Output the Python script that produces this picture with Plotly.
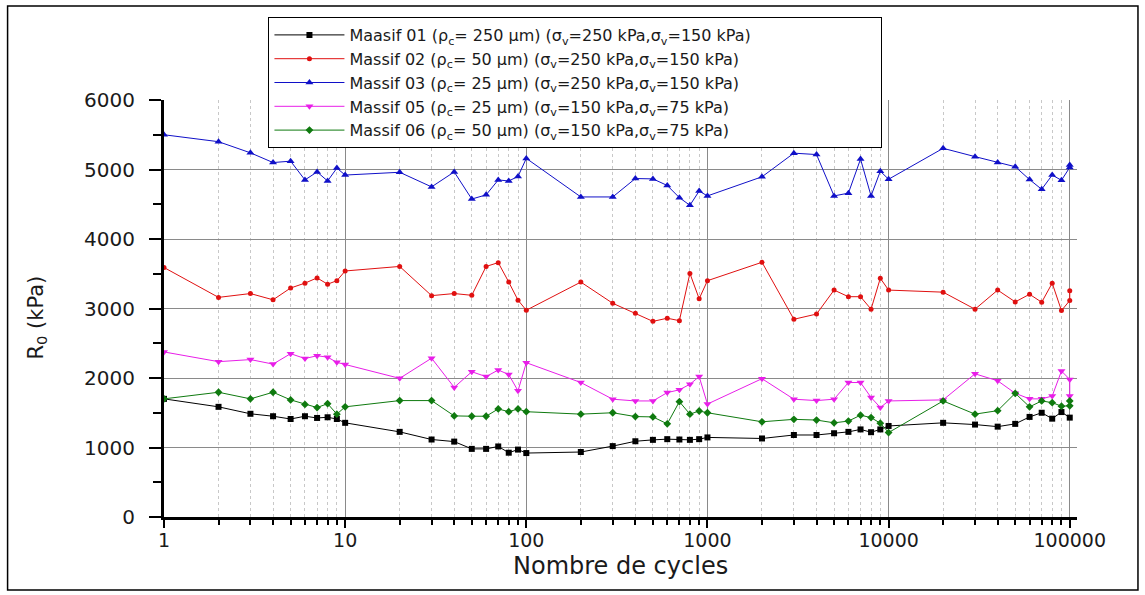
import plotly.graph_objects as go

# ---------------- data ----------------
cycles = [1, 2, 3, 4, 5, 6, 7, 8, 9,
          10, 20, 30, 40, 50, 60, 70, 80, 90,
          100, 200, 300, 400, 500, 600, 700, 800, 900,
          1000, 2000, 3000, 4000, 5000, 6000, 7000, 8000, 9000,
          10000, 20000, 30000, 40000, 50000, 60000, 70000, 80000, 90000,
          100000]
cycles_dup = cycles + [100000]

massif01 = [1700, 1585, 1485, 1450, 1410, 1450, 1425, 1435, 1410,
            1355, 1225, 1115, 1085, 980, 980, 1015, 925, 970,
            920, 935, 1020, 1090, 1110, 1120, 1115, 1110, 1120,
            1145, 1130, 1180, 1180, 1205, 1225, 1260, 1220, 1260,
            1310, 1355, 1330, 1300, 1340, 1440, 1500, 1415, 1510,
            1430]

massif02 = [3590, 3160, 3215, 3125, 3295, 3365, 3440, 3350, 3400,
            3540, 3605, 3185, 3215, 3190, 3605, 3660, 3380, 3120,
            2975, 3380, 3075, 2930, 2815, 2860, 2825, 3505, 3140,
            3400, 3665, 2845, 2920, 3265, 3170, 3170, 2990, 3435,
            3265, 3235, 2990, 3265, 3095, 3205, 3090, 3365, 2970,
            3115, 3255]

massif03 = [5500, 5400, 5240, 5100, 5120, 4850, 4965, 4835, 5020,
            4920, 4960, 4750, 4965, 4575, 4635, 4850, 4835, 4900,
            5160, 4605, 4605, 4870, 4865, 4770, 4595, 4485, 4690,
            4620, 4895, 5235, 5215, 4620, 4660, 5150, 4620, 4975,
            4860, 5305, 5185, 5100, 5040, 4855, 4715, 4920, 4845,
            5030, 5065]

massif05 = [2375, 2235, 2265, 2200, 2350, 2280, 2320, 2300, 2225,
            2195, 1995, 2285, 1865, 2090, 2020, 2115, 2050, 1815,
            2220, 1935, 1695, 1670, 1670, 1790, 1830, 1910, 2020,
            1625, 1990, 1695, 1675, 1695, 1935, 1935, 1720, 1575,
            1670, 1685, 2060, 1960, 1780, 1700, 1700, 1740, 2100,
            1980, 1740]

massif06 = [1700, 1795, 1700, 1795, 1685, 1620, 1575, 1630, 1480,
            1585, 1675, 1675, 1455, 1450, 1450, 1555, 1515, 1555,
            1515, 1480, 1500, 1445, 1440, 1340, 1660, 1480, 1525,
            1500, 1370, 1405, 1395, 1355, 1380, 1465, 1430, 1350,
            1215, 1670, 1480, 1530, 1780, 1585, 1670, 1645, 1595,
            1600, 1670]

names = [
    "Maasif 01 (ρ<sub>c</sub>= 250 µm) (σ<sub>v</sub>=250 kPa,σ<sub>v</sub>=150 kPa)",
    "Massif 02 (ρ<sub>c</sub>= 50 µm) (σ<sub>v</sub>=250 kPa,σ<sub>v</sub>=150 kPa)",
    "Massif 03 (ρ<sub>c</sub>= 25 µm) (σ<sub>v</sub>=250 kPa,σ<sub>v</sub>=150 kPa)",
    "Massif 05 (ρ<sub>c</sub>= 25 µm) (σ<sub>v</sub>=150 kPa,σ<sub>v</sub>=75 kPa)",
    "Massif 06 (ρ<sub>c</sub>= 50 µm) (σ<sub>v</sub>=150 kPa,σ<sub>v</sub>=75 kPa)",
]

y_ticks = [0, 1000, 2000, 3000, 4000, 5000, 6000]
x_ticks = [1, 10, 100, 1000, 10000, 100000]
x_ticklabels = ["1", "10", "100", "1000", "10000", "100000"]

# ---------------- figure ----------------
FONT = "DejaVu Sans"
series = [
    (cycles, massif01, names[0], "#000000", "square", 6),
    (cycles_dup, massif02, names[1], "#e01010", "circle", 5),
    (cycles_dup, massif03, names[2], "#1010c8", "triangle-up", 7),
    (cycles_dup, massif05, names[3], "#e81ee8", "triangle-down", 7),
    (cycles_dup, massif06, names[4], "#0f7a0f", "diamond", 6),
]

fig = go.Figure()
for xs, ys, nm, col, sym, sz in series:
    fig.add_trace(go.Scatter(
        x=xs, y=ys, name=nm, mode="lines+markers",
        line=dict(color=col, width=1),
        marker=dict(color=col, symbol=sym, size=sz, line=dict(width=0)),
    ))

L, R, T, B = 163.5, 1077.0, 100.0, 517.0
W, H = 1145, 595
pw, ph = R - L, B - T


def px_x(p):
    return (p - L) / pw


def px_y(p):
    return (B - p) / ph


fig.update_layout(
    width=W, height=H,
    margin=dict(l=L, r=W - R, t=T, b=H - B, pad=0, autoexpand=False),
    paper_bgcolor="white", plot_bgcolor="white",
    font=dict(family=FONT, color="#1a1a1a"),
    showlegend=True,
    legend=dict(
        x=px_x(268), y=px_y(17), xanchor="left", yanchor="top",
        orientation="h", entrywidth=527, entrywidthmode="pixels",
        bgcolor="white", bordercolor="black", borderwidth=1,
        font=dict(family=FONT, size=16, color="#1a1a1a"),
        tracegroupgap=0, itemwidth=70,
    ),
    xaxis=dict(
        type="log", range=[0, 5.04],
        tickvals=x_ticks, ticktext=x_ticklabels,
        ticks="outside", ticklen=8, tickwidth=2, tickcolor="black",
        showline=True, linecolor="black", linewidth=3,
        showgrid=True, gridcolor="#8a8a8a", gridwidth=1,
        tickfont=dict(family=FONT, size=19, color="#1a1a1a"),
        ticklabelstandoff=-4,
        zeroline=False,
        minor=dict(ticks="outside", ticklen=5, tickwidth=2, tickcolor="black",
                   dtick="D1", showgrid=True, gridcolor="#c8c8c8",
                   griddash="dot", gridwidth=1),
    ),
    yaxis=dict(
        range=[0, 6000], tickvals=y_ticks,
        ticks="outside", ticklen=12, tickwidth=2, tickcolor="black",
        showline=True, linecolor="black", linewidth=3,
        showgrid=True, gridcolor="#8a8a8a", gridwidth=1,
        tickfont=dict(family=FONT, size=20, color="#1a1a1a"),
        ticklabelstandoff=10,
        zeroline=False,
        minor=dict(ticks="outside", ticklen=8, tickwidth=2, tickcolor="black",
                   dtick=500, showgrid=False),
    ),
    annotations=[
        dict(text="R<sub>0</sub> (kPa)", xref="paper", yref="paper",
             x=px_x(36), y=px_y(318), xanchor="center", yanchor="middle",
             textangle=-90, showarrow=False,
             font=dict(family=FONT, size=21, color="#1a1a1a")),
        dict(text="Nombre de cycles", xref="paper", yref="paper",
             x=px_x(620), y=px_y(566), xanchor="center", yanchor="middle",
             showarrow=False,
             font=dict(family=FONT, size=24, color="#1a1a1a")),
    ],
    shapes=[
        dict(type="rect", xref="paper", yref="paper",
             x0=px_x(7), x1=px_x(1138), y0=px_y(590), y1=px_y(6),
             line=dict(color="black", width=1.5), layer="below"),
    ],
)

fig.write_html("out.html")
